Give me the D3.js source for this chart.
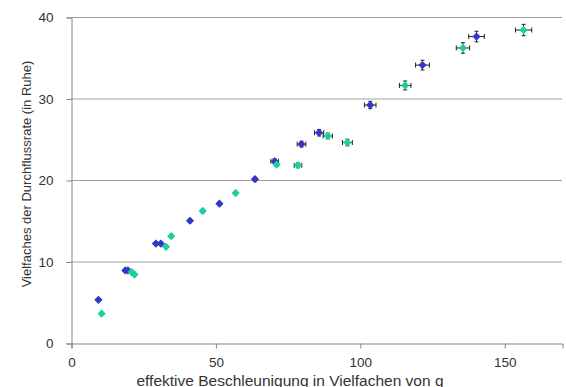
<!DOCTYPE html>
<html>
<head>
<meta charset="utf-8">
<script src="https://cdn.jsdelivr.net/npm/d3@7"></script>
<style>
  body { margin: 0; background: #fff; }
  text { font-family: "Liberation Sans", Arial, sans-serif; fill: #333; }
</style>
</head>
<body>
<div id="chart"></div>
<script>
// series 1 (blue)
var blueX    = [9.5, 18.8, 19.7, 29.4, 31.1, 41.2, 51.4, 63.7, 70.5, 79.8, 85.9, 103.6, 121.7, 140.4];
var blueY    = [5.3, 8.9, 8.9, 12.2, 12.2, 15.0, 17.1, 20.1, 22.3, 24.4, 25.8, 29.2, 34.1, 37.6];
var blueXErr = [0.2, 0.3, 0.3, 0.3, 0.3, 0.4, 0.4, 0.5, 1.3, 1.5, 1.6, 2.0, 2.4, 2.7];
var blueYErr = [0.1, 0.1, 0.1, 0.1, 0.1, 0.15, 0.15, 0.2, 0.3, 0.35, 0.4, 0.45, 0.6, 0.65];

// series 2 (teal)
var tealX    = [10.6, 21.0, 22.0, 32.9, 34.7, 45.6, 57.0, 71.2, 78.6, 88.9, 95.7, 115.7, 135.7, 156.7];
var tealY    = [3.6, 8.7, 8.4, 11.8, 13.1, 16.2, 18.4, 21.9, 21.8, 25.4, 24.6, 31.6, 36.2, 38.4];
var tealXErr = [0.2, 0.3, 0.3, 0.3, 0.3, 0.4, 0.4, 0.6, 1.3, 1.6, 1.7, 2.0, 2.3, 2.8];
var tealYErr = [0.1, 0.1, 0.1, 0.1, 0.1, 0.15, 0.15, 0.2, 0.3, 0.35, 0.4, 0.55, 0.65, 0.7];

var xTicks = [0, 50, 100, 150];
var yTicks = [0, 10, 20, 30, 40];

var xTitle = "effektive Beschleunigung in Vielfachen von g";
var yTitle = "Vielfaches der Durchflussrate (in Ruhe)";

var W = 566, H = 387;
var svg = d3.select("#chart").append("svg")
  .attr("width", W).attr("height", H);

var x = d3.scaleLinear().domain([0, 170]).range([71, 562]);
var y = d3.scaleLinear().domain([0, 40]).range([343, 17]);

// horizontal gridlines
svg.append("g").selectAll("line")
  .data(yTicks.filter(function(d) { return d > 0; }))
  .enter().append("line")
  .attr("x1", x(0)).attr("x2", x(170))
  .attr("y1", function(d) { return y(d) + 0.5; })
  .attr("y2", function(d) { return y(d) + 0.5; })
  .attr("stroke", "#a0a0a0").attr("stroke-width", 1);

// y axis
var yAxis = svg.append("g")
  .attr("transform", "translate(" + (x(0) + 0.5) + ",0.5)")
  .call(d3.axisLeft(y).tickValues(yTicks).tickSize(5).tickPadding(13));
yAxis.select(".domain").attr("stroke", "#868686");
yAxis.selectAll(".tick line").attr("stroke", "#868686");
yAxis.selectAll(".tick text")
  .style("font-size", "13.5px").style("font-family", "Liberation Sans, Arial, sans-serif")
  .attr("fill", "#333");

// x axis
var xAxis = svg.append("g")
  .attr("transform", "translate(0.5," + (y(0) + 0.5) + ")")
  .call(d3.axisBottom(x).tickValues(xTicks).tickSize(5).tickPadding(9));
xAxis.select(".domain").attr("stroke", "#868686");
xAxis.selectAll(".tick line").attr("stroke", "#868686");
xAxis.selectAll(".tick text")
  .style("font-size", "13.5px").style("font-family", "Liberation Sans, Arial, sans-serif")
  .attr("fill", "#333");

// axis titles
svg.append("text")
  .attr("x", 290).attr("y", 386)
  .attr("text-anchor", "middle")
  .style("font-size", "15.5px")
  .text(xTitle);

svg.append("text")
  .attr("transform", "translate(31,174) rotate(-90)")
  .attr("text-anchor", "middle")
  .style("font-size", "13px")
  .text(yTitle);

function buildSeries(xs, ys, xe, ye) {
  return xs.map(function(v, i) {
    return { x: v, y: ys[i], xe: xe[i], ye: ye[i] };
  });
}

function drawSeries(data, color) {
  var g = svg.append("g");
  var eb = g.append("g").attr("stroke", "#222").attr("stroke-width", 1);

  data.forEach(function(d) {
    var cx = x(d.x), cy = y(d.y);
    var x0 = x(d.x - d.xe), x1 = x(d.x + d.xe);
    var y0 = y(d.y - d.ye), y1 = y(d.y + d.ye);
    eb.append("line").attr("x1", x0).attr("x2", x1).attr("y1", cy).attr("y2", cy);
    eb.append("line").attr("x1", x0).attr("x2", x0).attr("y1", cy - 2.5).attr("y2", cy + 2.5);
    eb.append("line").attr("x1", x1).attr("x2", x1).attr("y1", cy - 2.5).attr("y2", cy + 2.5);
    eb.append("line").attr("x1", cx).attr("x2", cx).attr("y1", y0).attr("y2", y1);
    eb.append("line").attr("x1", cx - 2).attr("x2", cx + 2).attr("y1", y0).attr("y2", y0);
    eb.append("line").attr("x1", cx - 2).attr("x2", cx + 2).attr("y1", y1).attr("y2", y1);
  });

  g.selectAll("path.pt")
    .data(data)
    .enter().append("path")
    .attr("class", "pt")
    .attr("d", d3.symbol().type(d3.symbolSquare).size(34))
    .attr("transform", function(d) {
      return "translate(" + x(d.x) + "," + y(d.y) + ") rotate(45)";
    })
    .attr("fill", color);
}

drawSeries(buildSeries(blueX, blueY, blueXErr, blueYErr), "#3535c8");
drawSeries(buildSeries(tealX, tealY, tealXErr, tealYErr), "#1ccf9f");
</script>
</body>
</html>
